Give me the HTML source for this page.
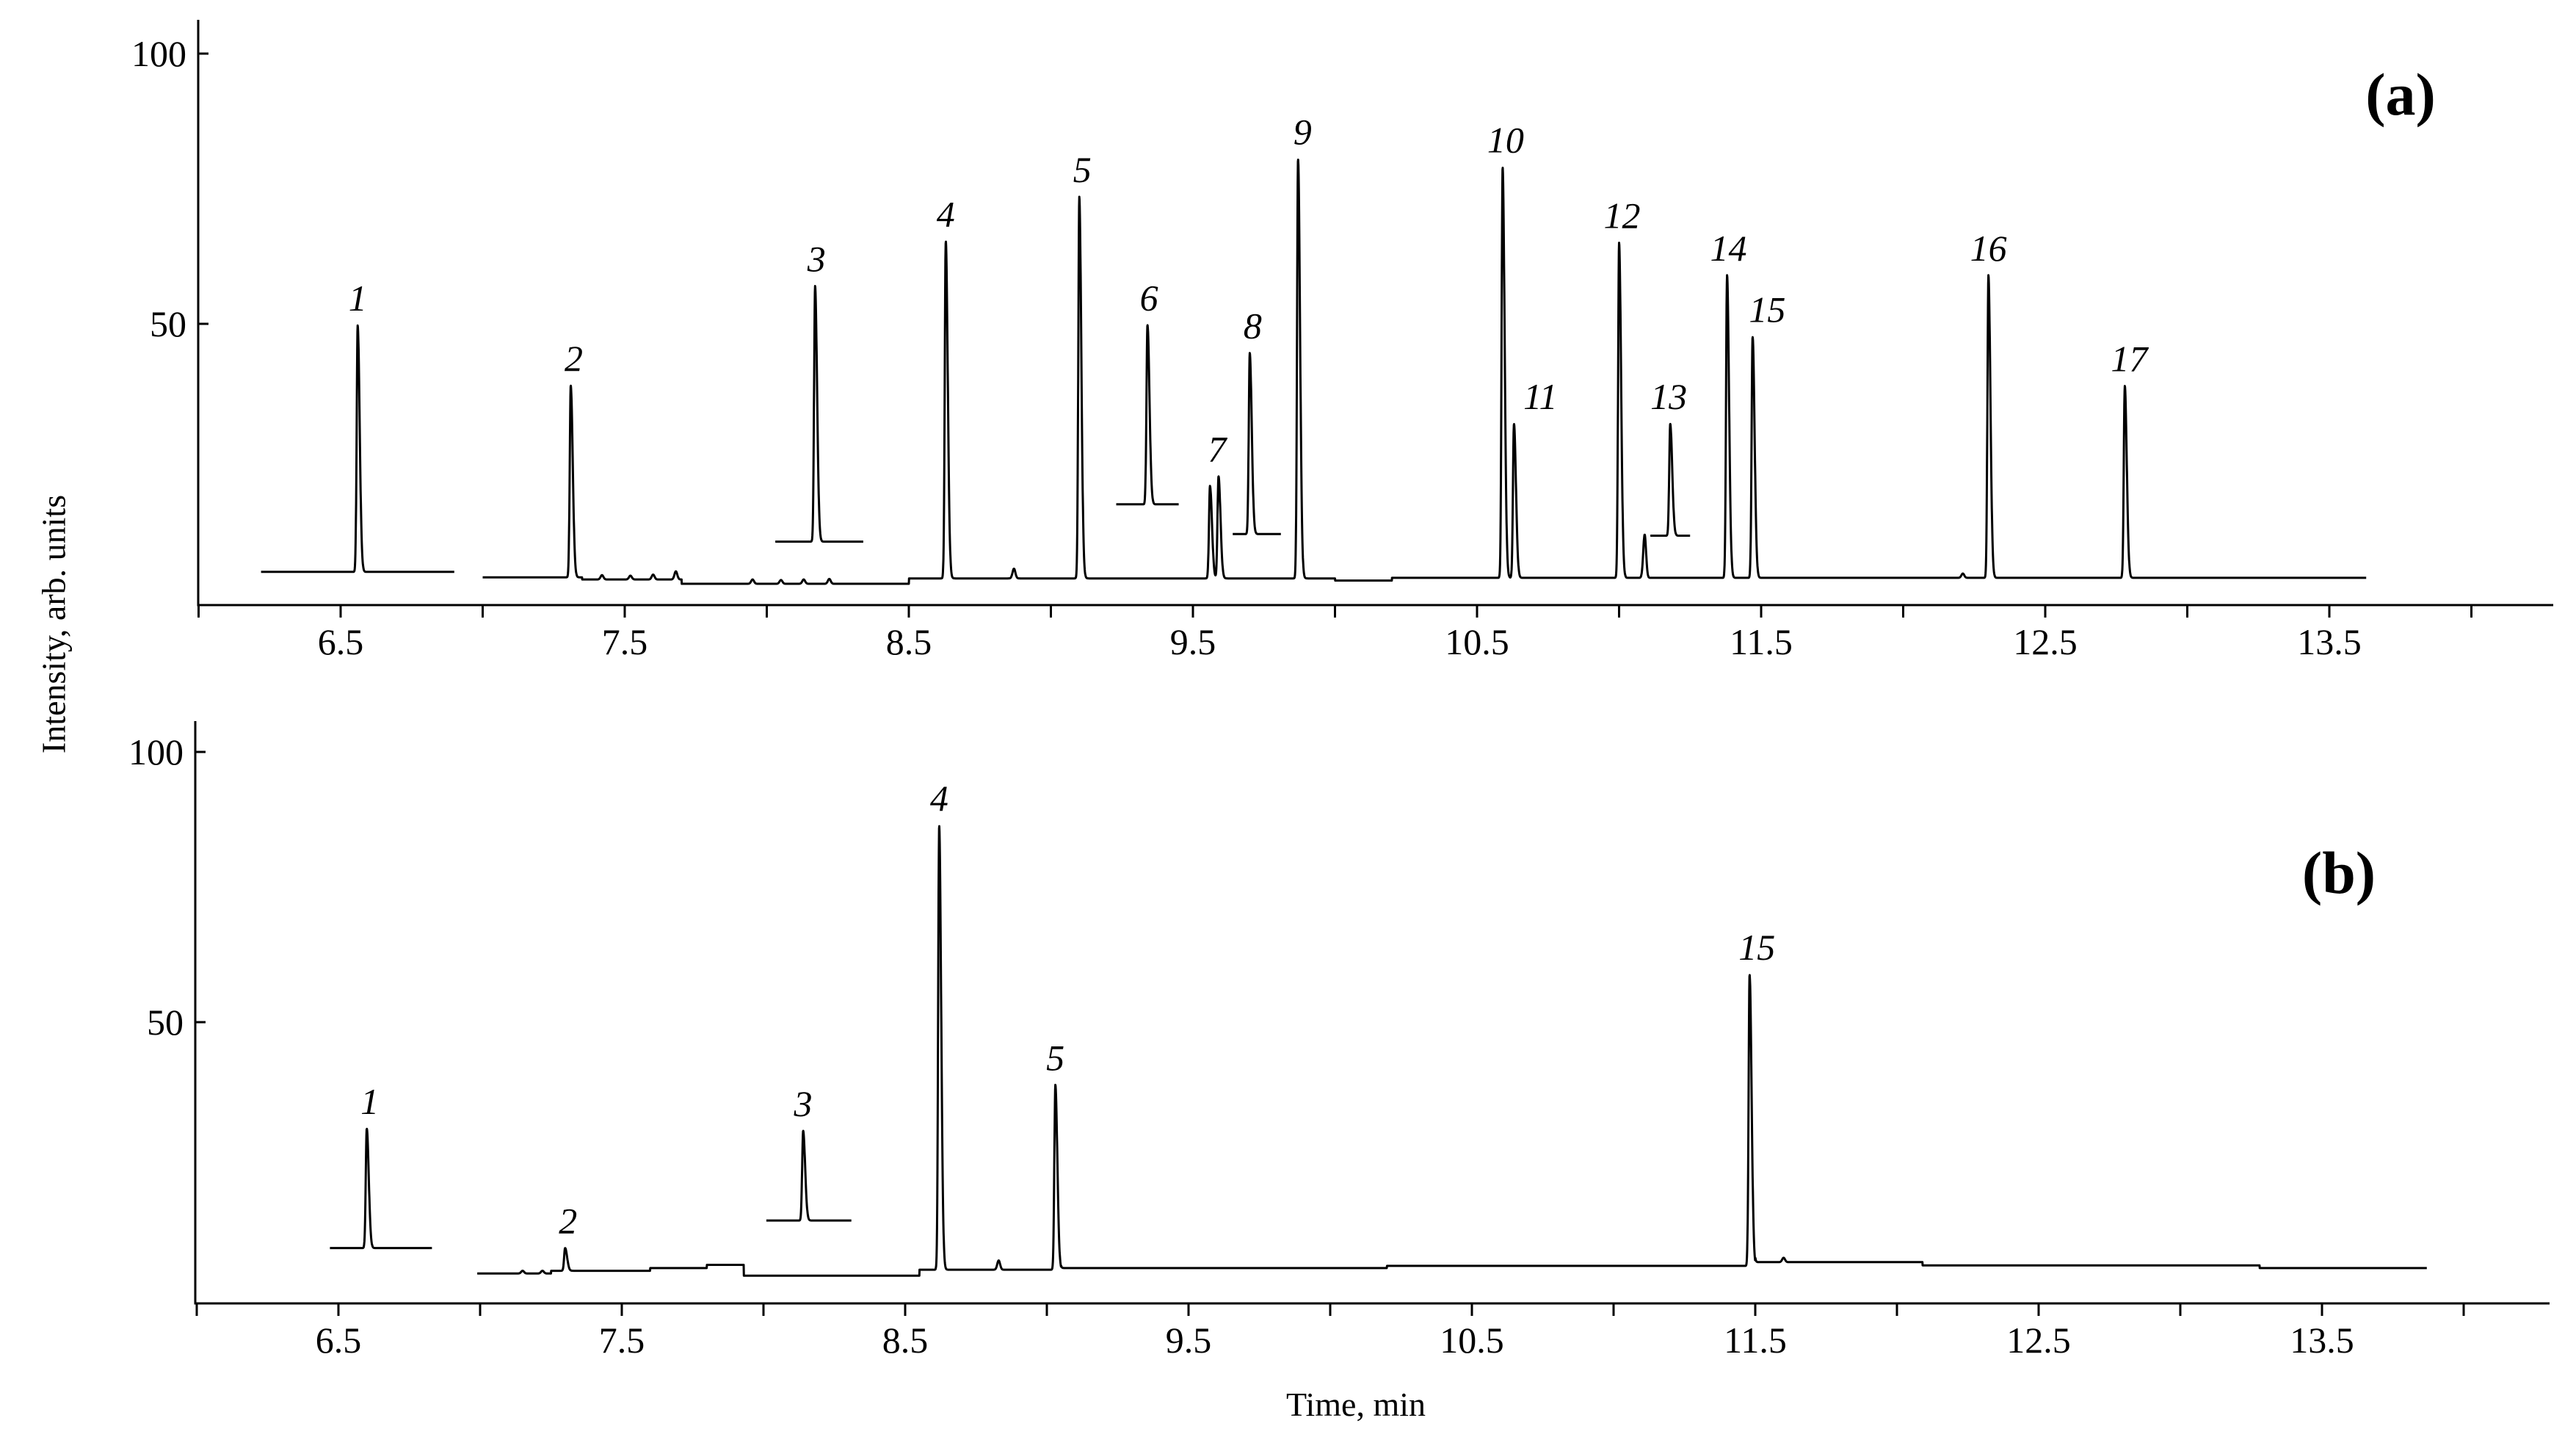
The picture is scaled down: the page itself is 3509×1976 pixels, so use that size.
<!DOCTYPE html>
<html><head><meta charset="utf-8"><style>
html,body{margin:0;padding:0;background:#fff}
svg{display:block}
text{font-family:"Liberation Serif",serif;fill:#000}
</style></head><body>
<svg id="chart" width="3509" height="1976" viewBox="0 0 3509 1976" xmlns="http://www.w3.org/2000/svg">
<rect width="3509" height="1976" fill="#fff"/>
<g id="panelA"></g>
<g id="panelB"></g>
<text x="78" y="850" font-size="46" text-anchor="middle" transform="rotate(-90 78 850)" dominant-baseline="middle">Intensity, arb. units</text>
<text x="1847" y="1928" font-size="46" text-anchor="middle">Time, min</text>
<text x="3270" y="156" font-size="82" font-weight="bold" text-anchor="middle">(a)</text>
<text x="3186" y="1216" font-size="82" font-weight="bold" text-anchor="middle">(b)</text>
</svg>
<script>
// ---------- data: panel (a) ----------
const xTickValues = [6.0,6.5,7.0,7.5,8.0,8.5,9.0,9.5,10.0,10.5,11.0,11.5,12.0,12.5,13.0,13.5,14.0];
const xTickLabels = ["","6.5","","7.5","","8.5","","9.5","","10.5","","11.5","","12.5","","13.5",""];
const yTickValues = [50,100];
const yTickLabels = ["50","100"];

const aSegStart = [6.22, 7.00, 8.03, 9.23, 9.64, 11.11];
const aSegEnd   = [6.90, 13.63, 8.34, 9.45, 9.81, 11.25];
const aSegBase  = [4.1, 3.0, 9.7, 16.6, 11.1, 10.8];
const aStepT = [7.00, 7.35, 7.70, 8.50, 10.00, 10.20];
const aStepV = [3.1, 2.7, 1.9, 2.9, 2.5, 3.0];
const aPeakT   = [6.56, 7.31, 8.17, 8.63, 9.10, 9.34, 9.56, 9.59, 9.70, 9.87, 10.59, 10.63, 11.00, 11.18, 11.38, 11.47, 12.30, 12.78];
const aPeakH   = [49.7, 38.6, 57.0, 65.3, 73.5, 49.8, 20.0, 21.8, 44.6, 80.5, 79.0, 31.5, 65.0, 31.5, 59.0, 47.6, 59.0, 38.5];
const aPeakSeg = [0, 1, 2, 1, 1, 3, 1, 1, 4, 1, 1, 1, 1, 5, 1, 1, 1, 1];
const aPeakLbl = ["1","2","3","4","5","6","","7","8","9","10","11","12","13","14","15","16","17"];
const aBumpT = [7.42, 7.52, 7.60, 7.68, 7.95, 8.05, 8.13, 8.22, 8.87, 11.09, 12.21];
const aBumpA = [0.8, 0.7, 0.9, 1.5, 0.8, 0.7, 0.8, 0.9, 1.8, 8.0, 0.8];

// ---------- data: panel (b) ----------
const bSegStart = [6.47, 6.99, 8.01];
const bSegEnd   = [6.83, 13.87, 8.31];
const bSegBase  = [8.2, 3.5, 13.3];
const bStepT = [6.99, 7.25, 7.60, 7.80, 7.93, 8.55, 9.05, 10.20, 11.50, 12.09, 13.28];
const bStepV = [3.5, 4.0, 4.5, 5.1, 3.1, 4.2, 4.5, 4.9, 5.6, 5.0, 4.5];
const bPeakT   = [6.60, 7.30, 8.14, 8.62, 9.03, 11.48];
const bPeakH   = [30.3, 8.2, 29.9, 86.4, 38.4, 58.8];
const bPeakSeg = [0, 1, 2, 1, 1, 1];
const bPeakLbl = ["1","2","3","4","5","15"];
const bBumpT = [7.15, 7.22, 8.83, 11.60];
const bBumpA = [0.5, 0.5, 1.7, 0.8];

// ---------- layout ----------
const NS = "http://www.w3.org/2000/svg";
const layoutA = {x0:464, t0:6.5, pxPerMin:387, yZero:809, pxPerUnit:7.36, axisY:824, axisX:270, axisTop:27, axisRight:3478,
  lblDx:[0,4,2,0,4,2,0,-2,4,6,4,36,4,-2,2,20,0,6], lblDy:[0,0,0,0,0,0,0,0,0,0,0,0,0,0,0,0,0,0]};
const layoutB = {x0:461, t0:6.5, pxPerMin:386, yZero:1760, pxPerUnit:7.36, axisY:1775, axisX:266, axisTop:982, axisRight:3473,
  lblDx:[4,4,0,0,0,10], lblDy:[0,0,0,0,0,0]};

function mk(tag, attrs, parent){ const e=document.createElementNS(NS,tag); for(const k in attrs) e.setAttribute(k,attrs[k]); parent.appendChild(e); return e; }

function drawPanel(g, L, segStart, segEnd, segBase, stepT, stepV, peakT, peakH, peakSeg, peakLbl, bumpT, bumpA, prefix){
  const X = t => L.x0 + (t - L.t0) * L.pxPerMin;
  const Y = v => L.yZero - v * L.pxPerUnit;
  const ax = mk('path', {d:`M${L.axisX},${L.axisTop} L${L.axisX},${L.axisY} L${L.axisRight},${L.axisY}`, fill:'none', stroke:'#000', 'stroke-width':3}, g);
  
  
  xTickValues.forEach((t,i)=>{
    const tk = mk('line',{x1:X(t),x2:X(t),y1:L.axisY,y2:L.axisY+17,stroke:'#000','stroke-width':3},g);
    
    
    if(xTickLabels[i]){
      const tx = mk('text',{x:X(t),y:L.axisY+67,'font-size':50,'text-anchor':'middle'},g);
      tx.textContent = xTickLabels[i];
      
      
    }
  });
  yTickValues.forEach((v,i)=>{
    const tk = mk('line',{x1:L.axisX,x2:L.axisX+14,y1:Y(v),y2:Y(v),stroke:'#000','stroke-width':3},g);
    
    
    const tx = mk('text',{x:L.axisX-16,y:Y(v)+17,'font-size':50,'text-anchor':'end'},g);
    tx.textContent = yTickLabels[i];
    
    
  });
  const s = 0.0035;
  const shape = (t, t0) => { const d=t-t0; const sg = d<0 ? s : s*2.0; return Math.exp(-0.5*(d/sg)*(d/sg)); };
  segStart.forEach((a,si)=>{
    const b = segEnd[si];
    let pts = [];
    for(let t=a; t<=b+1e-9; t+=0.0008){
      let base = segBase[si];
      if(si===1){ base = stepV[0]; for(let k=0;k<stepT.length;k++) if(t>=stepT[k]) base=stepV[k]; }
      let v = base;
      peakT.forEach((pt,pi)=>{ if(peakSeg[pi]===si){ const amp = peakH[pi]-base; v += amp*shape(t,pt); } });
      if(si===1) bumpT.forEach((bt,bi)=>{ v += bumpA[bi]*Math.exp(-0.5*Math.pow((t-bt)/0.005,2)); });
      pts.push(X(t).toFixed(1)+','+Y(v).toFixed(1));
    }
    const pl = mk('polyline',{points:pts.join(' '),fill:'none',stroke:'#000','stroke-width':3,'stroke-linejoin':'round'},g);
    
    
  });
  peakT.forEach((pt,pi)=>{
    if(!peakLbl[pi]) return;
    const tx = mk('text',{x:X(pt)+L.lblDx[pi],y:Y(peakH[pi])-20+L.lblDy[pi],'font-size':50,'font-style':'italic','text-anchor':'middle'},g);
    tx.textContent = peakLbl[pi];
    
    
  });
}
drawPanel(document.getElementById('panelA'), layoutA, aSegStart, aSegEnd, aSegBase, aStepT, aStepV, aPeakT, aPeakH, aPeakSeg, aPeakLbl, aBumpT, aBumpA, 'panel-a');
drawPanel(document.getElementById('panelB'), layoutB, bSegStart, bSegEnd, bSegBase, bStepT, bStepV, bPeakT, bPeakH, bPeakSeg, bPeakLbl, bBumpT, bBumpA, 'panel-b');
</script>
</body></html>
